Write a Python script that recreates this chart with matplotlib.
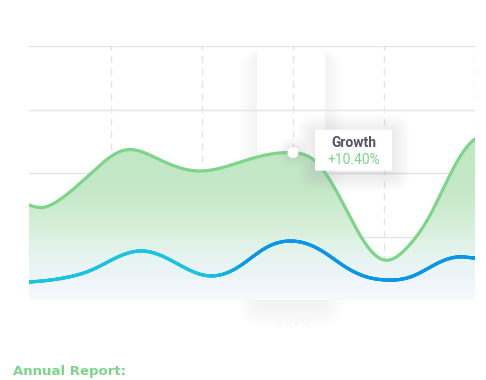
import numpy as np
import matplotlib
matplotlib.use("Agg")
import matplotlib.pyplot as plt
from matplotlib.collections import LineCollection
from matplotlib.patches import FancyBboxPatch, Circle, Polygon
from matplotlib.colors import to_rgb, LinearSegmentedColormap

# ---------------- data ----------------
years = [2014, 2015, 2016, 2017, 2018]
highlight_year = 2016
highlight_label = "2016"
tooltip_title = "Growth"
tooltip_value = "+10.40%"
title = "Annual Report:"

green_x = [2013.10, 2013.22, 2013.45, 2013.80, 2014.15, 2014.55, 2014.95, 2015.50,
           2016.00, 2016.25, 2016.55, 2016.80, 2017.01, 2017.25, 2017.50, 2017.75, 2018.00]
green_y = [37.4, 36.4, 39.8, 50.5, 59.0, 55.0, 50.8, 55.2,
           58.0, 54.5, 38.0, 22.0, 15.7, 20.5, 33.0, 51.0, 63.4]

blue_x = [2013.10, 2013.50, 2013.80, 2014.05, 2014.35, 2014.65, 2015.05, 2015.40,
          2015.70, 2016.00, 2016.30, 2016.60, 2016.85, 2017.01, 2017.30, 2017.62,
          2017.85, 2018.00]
blue_y = [7.1, 8.8, 12.0, 16.5, 19.3, 15.8, 9.6, 13.0,
          20.5, 23.2, 19.7, 12.5, 8.7, 7.9, 9.2, 15.0,
          17.0, 16.5]


def spline(x, y, xs, d0=None, dn=None):
    x = np.asarray(x, float); y = np.asarray(y, float)
    n = len(x); h = np.diff(x)
    A = np.zeros((n, n)); b = np.zeros(n)
    for i in range(1, n - 1):
        A[i, i - 1] = h[i - 1]; A[i, i] = 2 * (h[i - 1] + h[i]); A[i, i + 1] = h[i]
        b[i] = 6 * ((y[i + 1] - y[i]) / h[i] - (y[i] - y[i - 1]) / h[i - 1])
    if d0 is None:
        A[0, 0] = 1
    else:
        A[0, 0] = 2 * h[0]; A[0, 1] = h[0]; b[0] = 6 * ((y[1] - y[0]) / h[0] - d0)
    if dn is None:
        A[-1, -1] = 1
    else:
        A[-1, -2] = h[-1]; A[-1, -1] = 2 * h[-1]; b[-1] = 6 * (dn - (y[-1] - y[-2]) / h[-1])
    M = np.linalg.solve(A, b)
    idx = np.clip(np.searchsorted(x, xs) - 1, 0, n - 2)
    xi, xi1, hi = x[idx], x[idx + 1], h[idx]
    return (M[idx] * (xi1 - xs)**3 / (6 * hi) + M[idx + 1] * (xs - xi)**3 / (6 * hi)
            + (y[idx] / hi - M[idx] * hi / 6) * (xi1 - xs)
            + (y[idx + 1] / hi - M[idx + 1] * hi / 6) * (xs - xi))


W, H = 486, 380
fig = plt.figure(figsize=(W / 100, H / 100), dpi=100)
fig.patch.set_facecolor("white")

bg = fig.add_axes([0, 0, 1, 1], zorder=0)
bg.set_xlim(0, W); bg.set_ylim(H, 0); bg.axis("off")

ax = fig.add_axes([29 / W, 80 / H, 446 / W, 254 / H], zorder=1)
ax.patch.set_alpha(0)
ax.set_xlim(2013.1, 2018.0)
ax.set_ylim(0, 100)
for s in ax.spines.values():
    s.set_visible(False)
ax.set_xticks([]); ax.set_yticks([])

fg = fig.add_axes([0, 0, 1, 1], zorder=2)
fg.set_xlim(0, W); fg.set_ylim(H, 0); fg.axis("off")
fg.patch.set_alpha(0)


def to_px(x, y):
    dx, dy = ax.transData.transform((x, y))
    return dx, H - dy


# highlight band
bx0, _ = to_px(highlight_year - 0.395, 0)
bx1, _ = to_px(highlight_year + 0.355, 0)
top_px, bot_px = 50, 300
for i in range(12, 0, -1):
    pad = i * 1.5
    bg.add_patch(FancyBboxPatch((bx0 - pad, top_px - pad * 0.2 + 4), bx1 - bx0 + 2 * pad,
                                bot_px - top_px + pad * 1.5,
                                boxstyle="round,pad=0,rounding_size=%f" % (6 + pad),
                                fc="#8a8aa0", ec="none", alpha=0.009))
bg.add_patch(FancyBboxPatch((bx0, top_px), bx1 - bx0, bot_px - top_px,
                            boxstyle="square,pad=0", fc="white", ec="none"))
cx, _ = to_px(highlight_year, 0)
bg.text(cx, 321, highlight_label, color="#f7f7f9", fontsize=10, ha="center", va="center")

# grid
for yv in [25, 50, 75, 100]:
    ax.axhline(yv, color="#e4e4e4", lw=1.0, zorder=1)
for xv in years:
    ax.axvline(xv, color="#e4e4e4", lw=1.0, ls=(0, (5, 4)), zorder=1)

# curves
xs = np.linspace(green_x[0], green_x[-1], 800)
gs = spline(green_x, green_y, xs, d0=-12, dn=25)
bxs = np.linspace(blue_x[0], blue_x[-1], 800)
bs = spline(blue_x, blue_y, bxs, d0=2, dn=-2)

poly = Polygon(np.column_stack([np.r_[xs, xs[-1], xs[0]], np.r_[gs, 0, 0]]),
               closed=True, fc="none", ec="none", transform=ax.transData)
ax.add_patch(poly)
cmap = LinearSegmentedColormap.from_list("g", [
    (0.0, "#f8fafd"), (0.12, "#eef5fb"), (0.27, "#e6f4ef"),
    (0.45, "#d6efd9"), (0.65, "#c6e9c9"), (1.0, "#bfe7c3")])
grad = np.linspace(0, 1, 256).reshape(-1, 1)
im = ax.imshow(grad, extent=[green_x[0], green_x[-1], 0, 65], origin="lower",
               cmap=cmap, aspect="auto", zorder=2, interpolation="bicubic")
im.set_clip_path(poly)
ax.set_xlim(2013.1, 2018.0); ax.set_ylim(0, 100)

ax.plot(xs, gs, color="#7dd58a", lw=2.3, zorder=4, solid_capstyle="round")

pts = np.column_stack([bxs, bs]).reshape(-1, 1, 2)
segs = np.concatenate([pts[:-1], pts[1:]], axis=1)
c1 = np.array(to_rgb("#1cc2e2")); c2 = np.array(to_rgb("#0a96e8"))
mid = (bxs[:-1] + bxs[1:]) / 2
f = np.clip((mid - 2015.1) / 0.45, 0, 1)[:, None]
cols = c1 * (1 - f) + c2 * f
lc = LineCollection(segs, colors=cols, linewidths=2.3, capstyle="round", zorder=5)
ax.add_collection(lc)

# highlighted point
hy = float(spline(green_x, green_y, np.array([highlight_year]), d0=-12, dn=25)[0])
px, py = to_px(highlight_year, hy)
for r, a in [(16, 0.025), (13, 0.035), (10, 0.045), (8, 0.05)]:
    fg.add_patch(Circle((px, py), r, fc="#9a9aae", ec="none", alpha=a))
fg.add_patch(Circle((px, py), 5.5, fc="white", ec="none"))

# tooltip
tx0, ty0, tw, th = px + 22, py - 23, 77, 41
for i in range(10, 0, -1):
    pad = i * 1.8
    fg.add_patch(FancyBboxPatch((tx0 - pad, ty0 - pad + 3), tw + 2 * pad, th + 2 * pad,
                                boxstyle="round,pad=0,rounding_size=%f" % (2 + pad),
                                fc="#7a7a96", ec="none", alpha=0.012))
fg.add_patch(FancyBboxPatch((tx0, ty0), tw, th, boxstyle="round,pad=0,rounding_size=1.5",
                            fc="white", ec="none"))
fg.text(tx0 + tw / 2, ty0 + 13, tooltip_title, color="#53536b", fontsize=10,
        fontweight="bold", ha="center", va="center", family="Roboto")
fg.text(tx0 + tw / 2, ty0 + 30, tooltip_value, color="#7dd58a", fontsize=10,
        ha="center", va="center", family="Roboto")

# title
fg.text(13, 372, title, color="#7dd58a", fontsize=9.5, fontweight="bold",
        ha="left", va="center", family="DejaVu Sans")

fig.savefig("out.png", dpi=100, facecolor="white")
